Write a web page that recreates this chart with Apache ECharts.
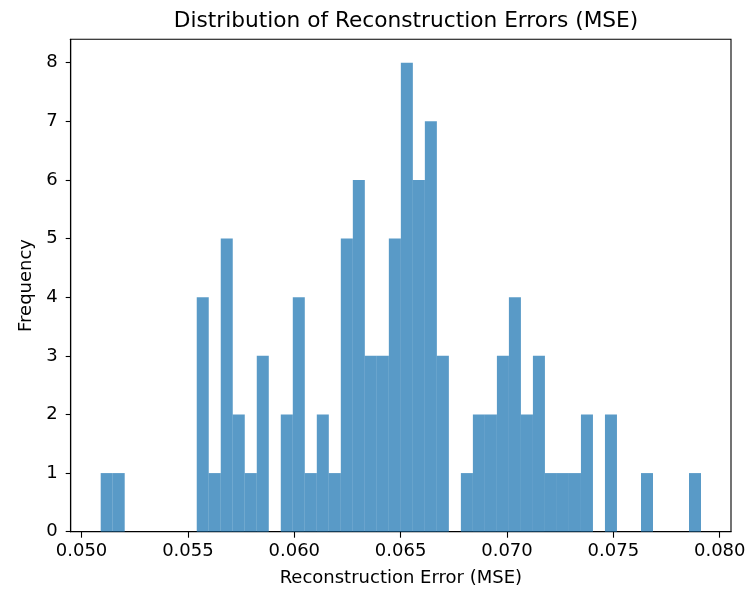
<!DOCTYPE html>
<html>
<head>
<meta charset="utf-8">
<script src="https://cdn.jsdelivr.net/npm/echarts@6/dist/echarts.min.js"></script>
<style>
  html, body { margin: 0; padding: 0; background: #fff; }
  #chart { width: 749px; height: 589px; }
</style>
</head>
<body>
<div id="chart"></div>
<script>
// Histogram of reconstruction errors: 50 equal-width bins between the smallest and largest error
const binRangeStart = 0.05090;
const binRangeEnd = 0.07912;
const binCounts = [
  1, 1, 0, 0, 0, 0, 0, 0, 4, 1,
  5, 2, 1, 3, 0, 2, 4, 1, 2, 1,
  5, 6, 3, 3, 5, 8, 6, 7, 3, 0,
  1, 2, 2, 3, 4, 2, 3, 1, 1, 1,
  2, 0, 2, 0, 0, 1, 0, 0, 0, 1
];
const xTickValues = [0.050, 0.055, 0.060, 0.065, 0.070, 0.075, 0.080];
const yTickValues = [0, 1, 2, 3, 4, 5, 6, 7, 8];

const binWidth = (binRangeEnd - binRangeStart) / binCounts.length;
const histData = binCounts.map((c, i) => [
  binRangeStart + i * binWidth,
  binRangeStart + (i + 1) * binWidth,
  c
]);

const FONT = 'DejaVu Sans';
const chart = echarts.init(document.getElementById('chart'), null, { renderer: 'canvas' });

chart.setOption({
  animation: false,
  backgroundColor: '#ffffff',
  title: {
    text: 'Distribution of Reconstruction Errors (MSE)',
    left: 401,
    textAlign: 'center',
    top: 5,
    textStyle: { fontFamily: FONT, fontSize: 21.7, fontWeight: 'normal', color: '#000' }
  },
  grid: {
    left: 70.7, right: 18, top: 39.3, bottom: 57.3,
    outerBoundsMode: 'none',
    show: true, borderColor: '#000', borderWidth: 1.1, backgroundColor: 'transparent'
  },
  xAxis: {
    type: 'value',
    min: 0.04949,
    max: 0.08053,
    name: 'Reconstruction Error (MSE)',
    nameLocation: 'middle',
    nameGap: 38,
    nameTextStyle: { fontFamily: FONT, fontSize: 18, color: '#000' },
    splitLine: { show: false },
    axisLine: { show: true, onZero: false, lineStyle: { color: '#000', width: 1.1 } },
    axisTick: { show: true, inside: false, length: 6, customValues: xTickValues, lineStyle: { color: '#000', width: 1.1 } },
    axisLabel: {
      customValues: xTickValues,
      margin: 11,
      fontFamily: FONT, fontSize: 18, color: '#000',
      formatter: v => v.toFixed(3)
    }
  },
  yAxis: {
    type: 'value',
    min: 0,
    max: 8.4,
    name: 'Frequency',
    nameLocation: 'middle',
    nameGap: 33,
    nameRotate: 90,
    nameTextStyle: { fontFamily: FONT, fontSize: 18, color: '#000' },
    splitLine: { show: false },
    axisLine: { show: true, lineStyle: { color: '#000', width: 1.1 } },
    axisTick: { show: true, inside: false, length: 5, customValues: yTickValues, lineStyle: { color: '#000', width: 1.1 } },
    axisLabel: {
      customValues: yTickValues,
      margin: 13,
      fontFamily: FONT, fontSize: 18, color: '#000'
    }
  },
  series: [{
    type: 'custom',
    data: histData,
    encode: { x: [0, 1], y: 2 },
    renderItem: function (params, api) {
      const topLeft = api.coord([api.value(0), api.value(2)]);
      const bottomRight = api.coord([api.value(1), 0]);
      return {
        type: 'rect',
        shape: {
          x: topLeft[0],
          y: topLeft[1],
          width: bottomRight[0] - topLeft[0],
          height: bottomRight[1] - topLeft[1]
        },
        style: { fill: 'rgba(31,119,180,0.74)' }
      };
    }
  }]
});
</script>
</body>
</html>
